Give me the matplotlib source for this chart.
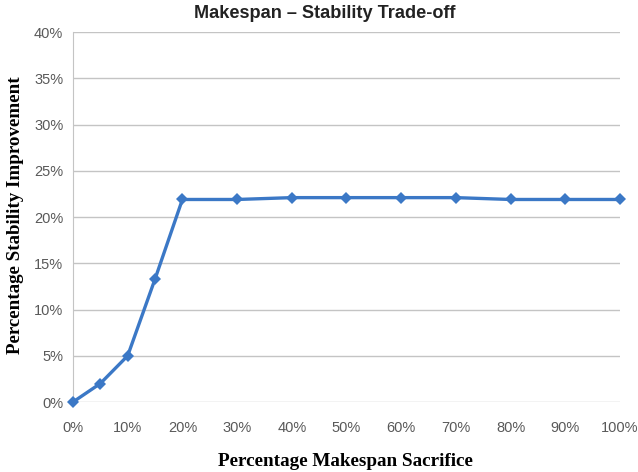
import matplotlib.pyplot as plt

sacrifice = [0, 5, 10, 15, 20, 30, 40, 50, 60, 70, 80, 90, 100]
improvement = [0.0, 2.0, 5.0, 13.3, 21.9, 21.9, 22.1, 22.1,
               22.1, 22.1, 21.9, 21.9, 21.9]
xticks = [0, 10, 20, 30, 40, 50, 60, 70, 80, 90, 100]
yticks = [0, 5, 10, 15, 20, 25, 30, 35, 40]

fig = plt.figure(figsize=(6.38, 4.72), dpi=100)
ax = fig.add_axes([0.1144, 0.1483, 0.8574, 0.7837])

ax.plot(sacrifice, improvement, color='#3b78c6', linewidth=2.4, marker='D',
        markersize=6.5, markeredgewidth=0, zorder=3, clip_on=False)

ax.set_xlim(0, 100)
ax.set_ylim(0, 40)
ax.set_xticks(xticks)
ax.set_xticklabels(['%d%%' % v for v in xticks])
ax.set_yticks(yticks)
ax.set_yticklabels(['%d%%' % v for v in yticks])
ax.grid(True, axis='y', color='#c4c4c4', linewidth=1)
ax.set_axisbelow(True)
for s in ['top', 'right', 'bottom']:
    ax.spines[s].set_visible(False)
ax.spines['left'].set_color('#c4c4c4')
for lbl in ax.get_xticklabels() + ax.get_yticklabels():
    lbl.set_family('Liberation Sans')
ax.tick_params(length=0, labelsize=10.5, labelcolor='#595959')
ax.tick_params(axis='y', pad=7)
ax.tick_params(axis='x', pad=14)

fig.text(0.509, 0.972, 'Makespan \u2013 Stability Trade-off', fontsize=13.1,
         fontweight='bold', family='Liberation Sans', color='#222222',
         ha='center', va='center')
fig.text(0.541, 0.022, 'Percentage Makespan Sacrifice', family='Liberation Serif',
         fontweight='bold', fontsize=13.8, ha='center', va='center')
fig.text(0.024, 0.544, 'Percentage Stability Improvement', family='Liberation Serif',
         fontweight='bold', fontsize=13.7, ha='center', va='center', rotation=90)

plt.savefig('out.png', dpi=100)
